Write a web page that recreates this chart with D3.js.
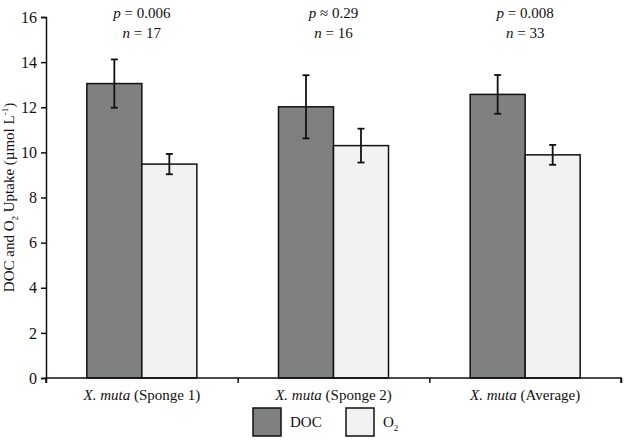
<!DOCTYPE html>
<html>
<head>
<meta charset="utf-8">
<script src="https://cdn.jsdelivr.net/npm/d3@7"></script>
<style>
  body { margin: 0; background: #fff; }
  svg, svg text { font-family: "Liberation Serif", "Times New Roman", serif; }
</style>
</head>
<body>
<div id="chart"></div>
<script>
const categories = ["Sponge 1", "Sponge 2", "Average"];
const series = ["DOC", "O2"];
const docMean = [13.05, 12.02, 12.57];
const docErr = [1.07, 1.4, 0.86];
const o2Mean = [9.48, 10.3, 9.89];
const o2Err = [0.45, 0.75, 0.44];
const pLabels = ["p = 0.006", "p ≈ 0.29", "p = 0.008"];
const nLabels = ["n = 17", "n = 16", "n = 33"];
const yTicks = [0, 2, 4, 6, 8, 10, 12, 14, 16];

const width = 631, height = 446;
const margin = { top: 17, right: 10, bottom: 68, left: 46 };
const innerW = width - margin.left - margin.right;
const innerH = height - margin.top - margin.bottom;
const colors = { DOC: "#7f8080", O2: "#f2f2f2" };

const svg = d3.select("#chart").append("svg")
  .attr("width", width).attr("height", height);

const g = svg.append("g")
  .attr("transform", `translate(${margin.left},${margin.top})`);

const x = d3.scaleBand().domain(categories).range([0, innerW]).padding(0);
const x1 = d3.scaleBand().domain(series).range([0, 110]);
const groupOffset = (x.bandwidth() - 110) / 2;
const y = d3.scaleLinear().domain([0, 16]).range([innerH, 0]);

const data = categories.map((c, i) => ({
  cat: c,
  vals: [
    { key: "DOC", mean: docMean[i], err: docErr[i] },
    { key: "O2", mean: o2Mean[i], err: o2Err[i] }
  ]
}));

// Bars
const groups = g.selectAll(".grp").data(data).join("g")
  .attr("transform", d => `translate(${x(d.cat) + groupOffset},0)`);

groups.selectAll("rect").data(d => d.vals).join("rect")
  .attr("x", d => x1(d.key))
  .attr("y", d => y(d.mean))
  .attr("width", x1.bandwidth())
  .attr("height", d => innerH - y(d.mean))
  .attr("fill", d => colors[d.key])
  .attr("stroke", "#111")
  .attr("stroke-width", 1.5);

// Error bars
const eb = groups.selectAll(".err").data(d => d.vals).join("g")
  .attr("class", "err")
  .attr("stroke", "#111").attr("stroke-width", 1.8);
eb.append("line")
  .attr("x1", d => x1(d.key) + x1.bandwidth() / 2)
  .attr("x2", d => x1(d.key) + x1.bandwidth() / 2)
  .attr("y1", d => y(d.mean + d.err))
  .attr("y2", d => y(d.mean - d.err));
[1, -1].forEach(s => {
  eb.append("line")
    .attr("x1", d => x1(d.key) + x1.bandwidth() / 2 - 3.5)
    .attr("x2", d => x1(d.key) + x1.bandwidth() / 2 + 3.5)
    .attr("y1", d => y(d.mean + s * d.err))
    .attr("y2", d => y(d.mean + s * d.err));
});

// Y axis
const yAxis = g.append("g")
  .call(d3.axisLeft(y).tickValues(yTicks).tickSize(5).tickPadding(4))
  .attr("font-family", null).attr("font-size", null);
yAxis.selectAll("text").attr("font-size", "16px").attr("fill", "#111");
yAxis.selectAll("line, path").attr("stroke", "#111").attr("stroke-width", 1.5);

// X axis: labels at band centres, ticks at band boundaries
const xb = d3.scaleLinear().domain([0, categories.length]).range([0, innerW]);
const xBound = g.append("g")
  .attr("transform", `translate(0,${innerH})`)
  .call(d3.axisBottom(xb).ticks(3).tickSize(5).tickFormat(""));
xBound.selectAll("line, path").attr("stroke", "#111").attr("stroke-width", 1.5);
xBound.select(".domain").attr("d", `M0,5V0H${innerW}V5`);

const xLab = g.append("g")
  .attr("transform", `translate(0,${innerH})`)
  .call(d3.axisBottom(x).tickSize(0).tickFormat(""))
  .attr("font-family", null).attr("font-size", null);
xLab.select(".domain").remove();
xLab.selectAll(".tick").append("text")
  .attr("y", 22)
  .attr("text-anchor", "middle")
  .attr("font-size", "15px")
  .attr("fill", "#111")
  .each(function(d) {
    const t = d3.select(this);
    t.append("tspan").attr("font-style", "italic").text("X. muta");
    t.append("tspan").text(` (${d})`);
  });

// p / n annotations
const ann = g.selectAll(".ann").data(categories).join("text")
  .attr("class", "ann")
  .attr("x", d => x(d) + x.bandwidth() / 2)
  .attr("text-anchor", "middle")
  .attr("font-size", "15px")
  .attr("fill", "#111");
ann.each(function(d, i) {
  const t = d3.select(this);
  const [pl, pr] = [pLabels[i].slice(0, 1), pLabels[i].slice(1)];
  const [nl, nr] = [nLabels[i].slice(0, 1), nLabels[i].slice(1)];
  const r1 = t.append("tspan").attr("x", x(d) + x.bandwidth() / 2).attr("y", 1);
  r1.append("tspan").attr("font-style", "italic").text(pl);
  r1.append("tspan").text(pr);
  const r2 = t.append("tspan").attr("x", x(d) + x.bandwidth() / 2).attr("y", 21);
  r2.append("tspan").attr("font-style", "italic").text(nl);
  r2.append("tspan").text(nr);
});

// Y axis title
const yt = svg.append("text")
  .attr("transform", `translate(14,${margin.top + innerH / 2}) rotate(-90)`)
  .attr("text-anchor", "middle")
  .attr("font-size", "15px")
  .attr("fill", "#111");
yt.append("tspan").text("DOC and O");
yt.append("tspan").attr("font-size", "9px").attr("dy", 4).text("2");
yt.append("tspan").attr("dy", -4).text(" Uptake (µmol L");
yt.append("tspan").attr("font-size", "9px").attr("dy", -6).text("-1");
yt.append("tspan").attr("dy", 6).text(")");

// Legend
const legend = svg.append("g").attr("transform", "translate(253,408)");
const li = legend.selectAll("g").data(series).join("g")
  .attr("transform", (d, i) => `translate(${i * 93},0)`);
li.append("rect")
  .attr("width", 28).attr("height", 28)
  .attr("fill", d => colors[d])
  .attr("stroke", "#111").attr("stroke-width", 1.5);
li.append("text")
  .attr("x", 37).attr("y", 19)
  .attr("font-size", "15px")
  .attr("fill", "#111")
  .each(function(d) {
    const t = d3.select(this);
    if (d === "O2") {
      t.append("tspan").text("O");
      t.append("tspan").attr("font-size", "9px").attr("dy", 4).text("2");
    } else {
      t.text(d);
    }
  });
</script>
</body>
</html>
